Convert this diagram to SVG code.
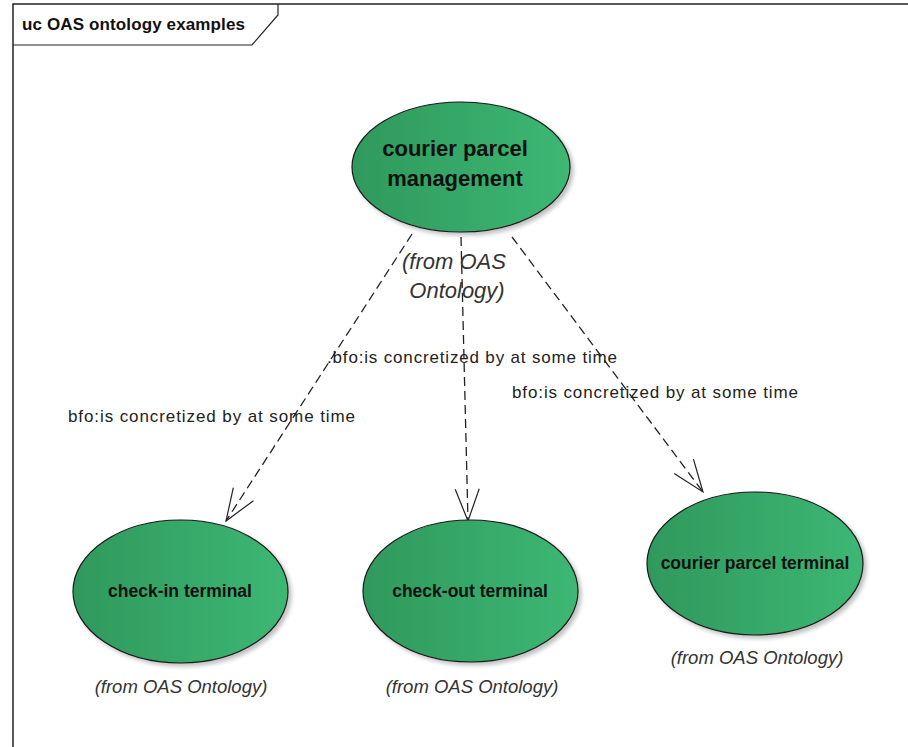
<svg xmlns="http://www.w3.org/2000/svg" width="908" height="747" viewBox="0 0 908 747">
<defs>
<linearGradient id="g" x1="0" y1="0" x2="1" y2="0">
<stop offset="0" stop-color="#2f995d"/>
<stop offset="1" stop-color="#3db774"/>
</linearGradient>
<filter id="sh" x="-10%" y="-10%" width="130%" height="130%">
<feGaussianBlur in="SourceAlpha" stdDeviation="2"/>
<feOffset dx="3" dy="3"/>
<feComponentTransfer><feFuncA type="linear" slope="0.25"/></feComponentTransfer>
<feMerge><feMergeNode/><feMergeNode in="SourceGraphic"/></feMerge>
</filter>
<marker id="arr" viewBox="0 0 34 26" refX="33" refY="13" markerWidth="34" markerHeight="26" markerUnits="userSpaceOnUse" orient="auto">
<path d="M1,1 L33,13 L1,25" fill="none" stroke="#222" stroke-width="1.2"/>
</marker>
</defs>
<style>
.uc{fill:url(#g);stroke:#1a1a1a;stroke-width:1.2;filter:url(#sh)}
.nm{font-family:"Liberation Sans",Arial,sans-serif;font-weight:bold;fill:#111;text-anchor:middle}
.fr{font-family:"Liberation Sans",Arial,sans-serif;font-style:italic;fill:#333;text-anchor:middle}
.lb{font-family:"Liberation Sans",Arial,sans-serif;font-size:17px;fill:#222}
.cn{fill:none;stroke:#222;stroke-width:1.3;stroke-dasharray:9,5;marker-end:url(#arr)}
</style>
<rect width="908" height="747" fill="#fff"/>
<g id="frame">
<path d="M13,747 L13,4 L908,4" fill="none" stroke="#222" stroke-width="1.5"/>
<path d="M13,45 L252,45 L278,15 L278,4" fill="none" stroke="#222" stroke-width="1.2"/>
<text x="22" y="30" font-family="'Liberation Sans',Arial,sans-serif" font-weight="bold" font-size="17px" fill="#111" textLength="223">uc OAS ontology examples</text>
</g>
<g id="connectors">
<line class="cn" x1="412" y1="234" x2="226" y2="521"/>
<line class="cn" x1="461" y1="237" x2="468" y2="521"/>
<line class="cn" x1="512" y1="237" x2="703" y2="492"/>
<text class="lb" x="68" y="422" textLength="287">bfo:is concretized by at some time</text>
<text class="lb" x="327" y="363" textLength="290">.bfo:is concretized by at some time</text>
<text class="lb" x="512" y="398" textLength="286">bfo:is concretized by at some time</text>
</g>
<g id="courier-parcel-management">
<ellipse class="uc" cx="461" cy="167" rx="109" ry="65"/>
<text class="nm" x="455" y="156" font-size="22px">courier parcel</text>
<text class="nm" x="455" y="186" font-size="22px">management</text>
<text class="fr" x="454" y="269" font-size="22px">(from OAS</text>
<text class="fr" x="457" y="298" font-size="22px">Ontology)</text>
</g>
<g id="check-in-terminal">
<ellipse class="uc" cx="180.5" cy="591.5" rx="107.5" ry="71.5"/>
<text class="nm" x="180" y="597" font-size="17.5px">check-in terminal</text>
<text class="fr" x="181" y="693" font-size="18.5px">(from OAS Ontology)</text>
</g>
<g id="check-out-terminal">
<ellipse class="uc" cx="470.5" cy="591" rx="107.5" ry="71"/>
<text class="nm" x="470" y="597" font-size="17.5px">check-out terminal</text>
<text class="fr" x="472" y="693" font-size="18.5px">(from OAS Ontology)</text>
</g>
<g id="courier-parcel-terminal">
<ellipse class="uc" cx="755" cy="563.5" rx="108" ry="71.5"/>
<text class="nm" x="755" y="569" font-size="17.5px">courier parcel terminal</text>
<text class="fr" x="757" y="664" font-size="18.5px">(from OAS Ontology)</text>
</g>
</svg>
